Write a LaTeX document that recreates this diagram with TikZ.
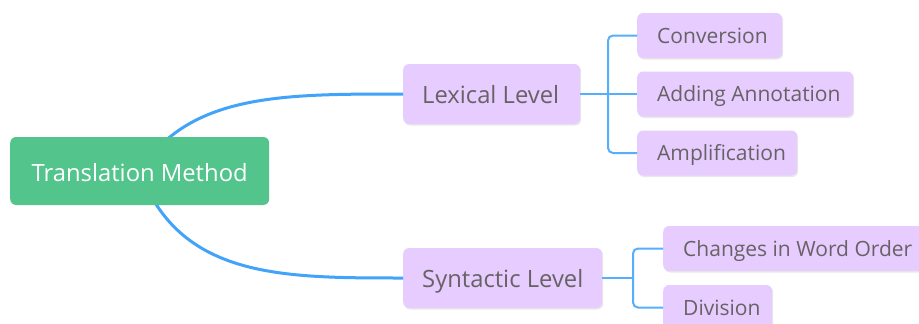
\documentclass[tikz,border=0pt]{standalone}
\usepackage{fontspec}
\setmainfont{Open Sans}
\usetikzlibrary{shadows}
\definecolor{rootgreen}{RGB}{82,196,140}
\definecolor{boxpurple}{RGB}{230,204,255}
\definecolor{txtgrey}{RGB}{104,98,100}
\definecolor{mainblue}{RGB}{66,163,250}
\definecolor{branchblue}{RGB}{85,175,250}
\newcommand{\lbox}[2]{\makebox[#1][l]{#2}}
\tikzset{
  rootbox/.style={fill=rootgreen, rounded corners=6pt, text=white, font=\fontsize{23.8}{26}\selectfont,
    minimum width=259pt, minimum height=68pt, inner sep=0pt, anchor=west,
    text height=24pt, text depth=2.6pt},
  levelbox/.style={fill=boxpurple, rounded corners=6pt, text=txtgrey, font=\fontsize{23.8}{26}\selectfont,
    minimum height=60pt, inner ysep=0pt, inner xsep=19pt, anchor=west,
    text height=22pt, text depth=4pt,
    drop shadow={shadow xshift=1pt, shadow yshift=-1.5pt, opacity=0.18}},
  leafbox/.style={fill=boxpurple, rounded corners=6pt, text=txtgrey, font=\fontsize{21}{24}\selectfont,
    minimum height=45pt, inner ysep=0pt, inner xsep=20pt, anchor=west,
    text height=18pt, text depth=3pt,
    drop shadow={shadow xshift=1pt, shadow yshift=-1.5pt, opacity=0.18}},
  maincurve/.style={draw=mainblue, line width=3pt},
  branch/.style={draw=branchblue, line width=2pt, rounded corners=5pt},
}
\begin{document}
\begin{tikzpicture}[x=1pt, y=-1pt]
\useasboundingbox (0,0) rectangle (919,324);
\clip (0,0) rectangle (919,324);
\fill[white] (0,0) rectangle (919,324);
% nodes
\node[levelbox] (lex) at (403,94) {\lbox{139pt}{Lexical Level}};
\node[levelbox] (syn) at (403,278) {\lbox{161pt}{Syntactic Level}};
\node[leafbox] (conv) at (637,35.5) {\lbox{105pt}{Conversion}};
\node[leafbox] (add) at (637,94) {\lbox{176pt}{Adding Annotation}};
\node[leafbox] (amp) at (637,153) {\lbox{120pt}{Amplification}};
\node[leafbox] (chg) at (663,248.5) {\lbox{222pt}{Changes in Word Order}};
\node[leafbox] (div) at (663,307.5) {\lbox{69pt}{Division}};
\coordinate (rc) at (139.5,171);
% main curves
\draw[maincurve] (rc) .. controls (190,94) and (280,94) .. (lex.west);
\draw[maincurve] (rc) .. controls (180,278) and (280,278) .. (syn.west);
\node[rootbox] (root) at (10,171) {Translation Method};
% branches
\coordinate (fa) at (608,0);
\coordinate (fb) at (633,0);
\draw[branch, rounded corners=0pt] (lex.east) -- (add.west);
\draw[branch] (conv.west) -- (conv.west -| fa) -- (amp.west -| fa) -- (amp.west);
\draw[branch, rounded corners=0pt] (syn.east) -- (syn.east -| fb);
\draw[branch] (chg.west) -- (chg.west -| fb) -- (div.west -| fb) -- (div.west);
\end{tikzpicture}
\end{document}
